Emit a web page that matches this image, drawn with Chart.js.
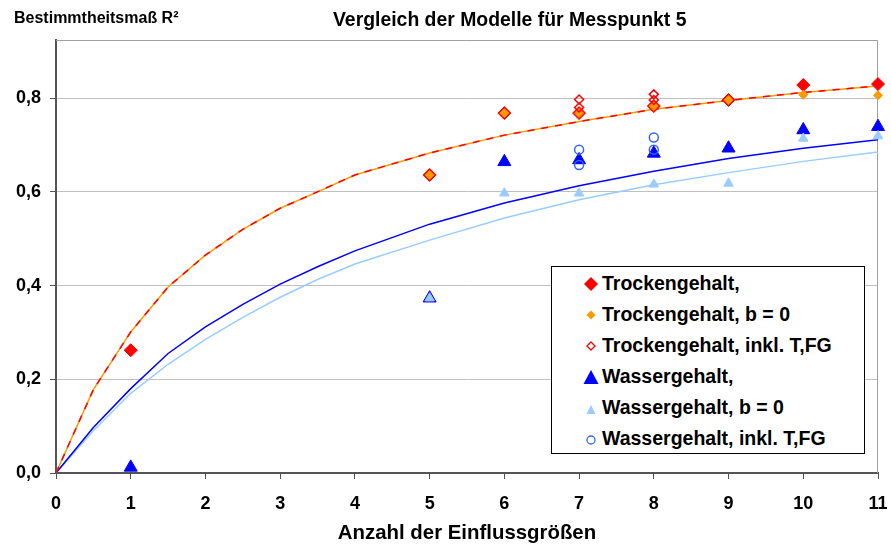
<!DOCTYPE html>
<html lang="de">
<head>
<meta charset="utf-8">
<script src="https://cdn.jsdelivr.net/npm/chart.js@4/dist/chart.umd.min.js"></script>
<style>
  html, body { margin: 0; padding: 0; background: #fff; }
  #wrap { position: relative; width: 891px; height: 547px; font-family: "Liberation Sans", Arial, sans-serif; }
  #chart { position: absolute; left: 0; top: 0; }
  .title { position: absolute; font-family: "Liberation Sans", Arial, sans-serif; font-weight: bold; color: #000; white-space: nowrap; line-height: 1; }
  #yTitle { left: 14px; top: 9.5px; font-size: 16px; }
  #mainTitle { left: 333px; top: 10px; font-size: 19.4px; }
  #legend { position: absolute; left: 551px; top: 266px; width: 314px; height: 188px; border: 1px solid #000; background: #fff; box-sizing: border-box; padding-top: 1px; }
  .leg-row { display: flex; align-items: center; height: 31px; font-size: 19.5px; font-weight: bold; color: #000; }
  .leg-icon { width: 16px; height: 16px; margin-left: 31px; margin-right: 3px; display: flex; align-items: center; justify-content: center; }
</style>
</head>
<body>
<div id="wrap">
  <canvas id="chart" width="891" height="547"></canvas>
  <div class="title" id="yTitle">Bestimmtheitsmaß R²</div>
  <div class="title" id="mainTitle">Vergleich der Modelle für Messpunkt 5</div>
  <div id="legend"></div>
</div>
<script>
// Messwerte (Punkte)
const trockenX = [1, 5, 6, 7, 8, 9, 10, 11];
const trockenY = [0.262, 0.636, 0.768, 0.768, 0.783, 0.796, 0.828, 0.830];

const trockenB0X = [5, 6, 7, 8, 9, 10, 11];
const trockenB0Y = [0.636, 0.768, 0.768, 0.783, 0.796, 0.807, 0.806];

const trockenTfgX = [7, 7, 8, 8];
const trockenTfgY = [0.797, 0.780, 0.808, 0.796];

const wasserX = [1, 5, 6, 7, 8, 9, 10, 11];
const wasserY = [0.012, 0.373, 0.664, 0.668, 0.682, 0.693, 0.732, 0.739];

const wasserB0X = [5, 6, 7, 8, 9, 10, 11];
const wasserB0Y = [0.373, 0.597, 0.597, 0.616, 0.618, 0.714, 0.719];

const wasserTfgX = [7, 7, 8, 8];
const wasserTfgY = [0.690, 0.657, 0.716, 0.690];

// Trendkurven
const curveX = [0, 0.5, 1, 1.5, 2, 2.5, 3, 3.5, 4, 5, 6, 7, 8, 9, 10, 11];
const curveTrocken = [0, 0.178, 0.301, 0.397, 0.465, 0.520, 0.565, 0.600, 0.636, 0.683, 0.721, 0.750, 0.776, 0.795, 0.812, 0.826];
const curveWasser = [0, 0.097, 0.180, 0.255, 0.312, 0.360, 0.403, 0.440, 0.474, 0.531, 0.576, 0.613, 0.644, 0.671, 0.693, 0.711];
const curveWasserB0 = [0, 0.090, 0.170, 0.232, 0.285, 0.332, 0.375, 0.413, 0.446, 0.497, 0.544, 0.583, 0.615, 0.641, 0.665, 0.685];

const xTicks = [0, 1, 2, 3, 4, 5, 6, 7, 8, 9, 10, 11];
const yTicks = [0, 0.2, 0.4, 0.6, 0.8];

const labels = [
  'Trockengehalt,',
  'Trockengehalt, b = 0',
  'Trockengehalt, inkl. T,FG',
  'Wassergehalt,',
  'Wassergehalt, b = 0',
  'Wassergehalt, inkl. T,FG'
];

function toPoints(xs, ys) {
  return xs.map((x, i) => ({ x, y: ys[i] }));
}

function fmt(v) {
  return v.toFixed(1).replace('.', ',');
}

const markerSets = [
  { label: labels[0], data: toPoints(trockenX, trockenY), pointStyle: 'rectRot', pointRadius: 6.5, backgroundColor: '#ff0000', borderColor: '#ff0000', pointBorderWidth: 1, order: 6 },
  { label: labels[1], data: toPoints(trockenB0X, trockenB0Y), pointStyle: 'rectRot', pointRadius: 4.5, backgroundColor: '#ff9900', borderColor: '#ff9900', pointBorderWidth: 1, order: 5 },
  { label: labels[2], data: toPoints(trockenTfgX, trockenTfgY), pointStyle: 'rectRot', pointRadius: 4.5, backgroundColor: 'rgba(0,0,0,0)', borderColor: '#ff0000', pointBorderWidth: 1.5, order: 4 },
  { label: labels[3], data: toPoints(wasserX, wasserY), pointStyle: 'triangle', pointRadius: 7.5, backgroundColor: '#0000ff', borderColor: '#0000ff', pointBorderWidth: 1, order: 3 },
  { label: labels[4], data: toPoints(wasserB0X, wasserB0Y), pointStyle: 'triangle', pointRadius: 5.5, backgroundColor: '#99ccff', borderColor: '#99ccff', pointBorderWidth: 1, order: 2 },
  { label: labels[5], data: toPoints(wasserTfgX, wasserTfgY), pointStyle: 'circle', pointRadius: 4.5, backgroundColor: 'rgba(0,0,0,0)', borderColor: '#3366ff', pointBorderWidth: 1.5, order: 1 }
].map((d) => ({ ...d, showLine: false, clip: false }));

const lineSets = [
  { data: toPoints(curveX, curveWasserB0), borderColor: '#99ccff', order: 14 },
  { data: toPoints(curveX, curveWasser), borderColor: '#0000ff', order: 13 },
  { data: toPoints(curveX, curveTrocken), borderColor: '#ff9900', order: 12 },
  { data: toPoints(curveX, curveTrocken), borderColor: '#ff0000', borderDash: [7, 7], order: 11 }
].map((d) => ({ ...d, label: '', showLine: true, pointRadius: 0, borderWidth: 1.5, tension: 0, fill: false }));

const frame = {
  id: 'frame',
  beforeDatasetsDraw(chart) {
    const { ctx, chartArea: a } = chart;
    ctx.save();
    ctx.strokeStyle = '#a0a0a0';
    ctx.lineWidth = 1;
    ctx.beginPath();
    ctx.moveTo(a.left, a.top + 0.5);
    ctx.lineTo(a.right - 0.5, a.top + 0.5);
    ctx.lineTo(a.right - 0.5, a.bottom);
    ctx.stroke();
    ctx.restore();
  }
};

new Chart(document.getElementById('chart'), {
  type: 'scatter',
  data: { datasets: [...markerSets, ...lineSets] },
  options: {
    responsive: false,
    animation: false,
    layout: { padding: { left: 0, right: 13, top: 40, bottom: 0 } },
    plugins: {
      legend: { display: false },
      tooltip: { enabled: false },
      title: { display: false }
    },
    scales: {
      x: {
        type: 'linear',
        min: 0,
        max: 11,
        afterBuildTicks: (s) => { s.ticks = xTicks.map((v) => ({ value: v })); },
        afterFit: (s) => { s.height = 74; s.paddingRight = 0; },
        grid: { drawOnChartArea: false, tickLength: 6, color: '#555', tickColor: '#555' },
        border: { color: '#555', width: 2 },
        ticks: { color: '#000', font: { family: 'Liberation Sans', size: 18, weight: 'bold' }, padding: 14, maxRotation: 0 },
        title: { display: true, text: 'Anzahl der Einflussgrößen', color: '#000', font: { family: 'Liberation Sans', size: 20.4, weight: 'bold' }, padding: { top: 2, bottom: 1 } }
      },
      y: {
        type: 'linear',
        min: 0,
        max: 0.924,
        afterBuildTicks: (s) => { s.ticks = yTicks.map((v) => ({ value: v })); },
        afterFit: (s) => { s.width = 56; },
        grid: { color: '#c0c0c0', tickLength: 6, tickColor: '#555' },
        border: { color: '#555', width: 2 },
        ticks: { color: '#000', font: { family: 'Liberation Sans', size: 18, weight: 'bold' }, padding: 9, callback: (v) => fmt(v) }
      }
    }
  },
  plugins: [frame]
});

function icon(i) {
  const shapes = [
    '<polygon points="8,1 15,8 8,15 1,8" fill="#ff0000"/>',
    '<polygon points="8,3.5 12.5,8 8,12.5 3.5,8" fill="#ff9900"/>',
    '<polygon points="8,4 12,8 8,12 4,8" fill="none" stroke="#ff0000" stroke-width="1.3"/>',
    '<polygon points="8,1 15.5,15 0.5,15" fill="#0000ff"/>',
    '<polygon points="8,5 12.5,14 3.5,14" fill="#99ccff"/>',
    '<circle cx="8" cy="9" r="4" fill="none" stroke="#3366ff" stroke-width="1.3"/>'
  ];
  return `<svg width="16" height="16" viewBox="0 0 16 16">${shapes[i]}</svg>`;
}

document.getElementById('legend').innerHTML = labels.map((text, i) => `
  <div class="leg-row"><span class="leg-icon">${icon(i)}</span><span>${text}</span></div>
`).join('');
</script>
</body>
</html>
